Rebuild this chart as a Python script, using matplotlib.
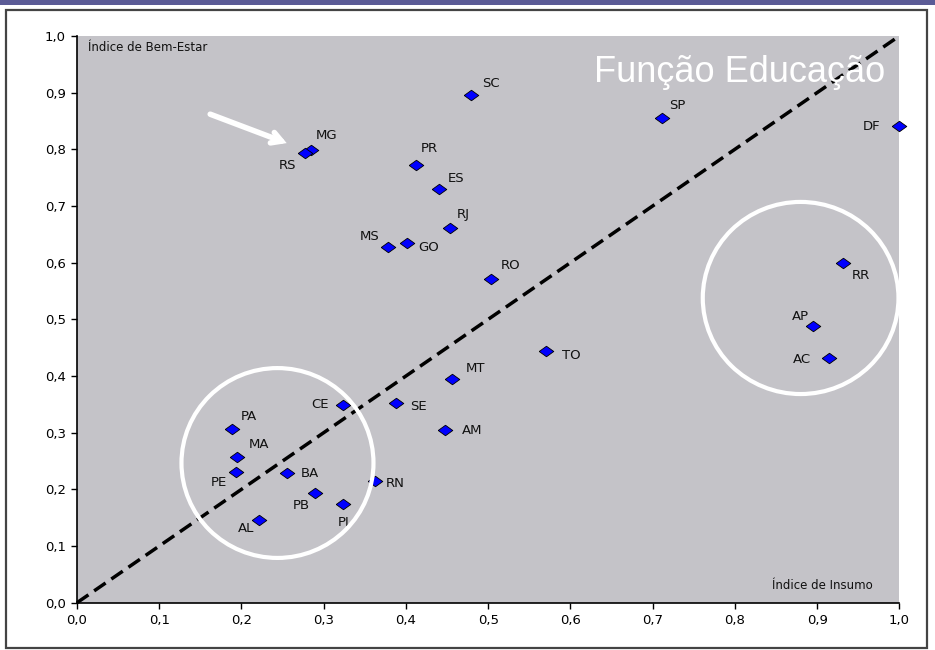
import matplotlib
matplotlib.use("Agg")
import matplotlib.pyplot as plt
from matplotlib.patches import Ellipse, Rectangle

# ---------- DATA ----------
states = ["AC", "AL", "AM", "AP", "BA", "CE", "DF", "ES", "GO", "MA", "MG", "MS", "MT", "PA",
          "PB", "PE", "PI", "PR", "RJ", "RN", "RO", "RR", "RS", "SC", "SE", "SP", "TO"]
insumo = [0.914, 0.221, 0.448, 0.895, 0.255, 0.324, 1.000, 0.440, 0.401, 0.195, 0.285, 0.378, 0.456, 0.189,
          0.289, 0.193, 0.324, 0.412, 0.454, 0.362, 0.504, 0.932, 0.277, 0.479, 0.388, 0.712, 0.570]
bem_estar = [0.432, 0.146, 0.304, 0.488, 0.228, 0.349, 0.842, 0.730, 0.634, 0.257, 0.799, 0.628, 0.394, 0.307,
             0.193, 0.231, 0.174, 0.772, 0.661, 0.214, 0.571, 0.599, 0.794, 0.896, 0.352, 0.855, 0.444]

ticks = [0.0, 0.1, 0.2, 0.3, 0.4, 0.5, 0.6, 0.7, 0.8, 0.9, 1.0]
tick_labels = ["0,0", "0,1", "0,2", "0,3", "0,4", "0,5", "0,6", "0,7", "0,8", "0,9", "1,0"]

# label offsets in pixels (dx, dy) from the marker, picked by eye
label_offsets = {
    "AC": (-27, -2), "AL": (-13, -9), "AM": (27, 0), "AP": (-13, 10), "BA": (23, 0),
    "CE": (-23, 0), "DF": (-28, -1), "ES": (17, 11), "GO": (22, -4), "MA": (22, 13),
    "MG": (15, 14), "MS": (-18, 10), "MT": (24, 11), "PA": (16, 12), "PB": (-13, -12),
    "PE": (-17, -11), "PI": (0, -18), "PR": (14, 17), "RJ": (13, 14), "RN": (21, -2),
    "RO": (19, 14), "RR": (17, -12), "RS": (-17, -13), "SC": (20, 11), "SE": (22, -3),
    "SP": (15, 13), "TO": (26, -4),
}

GRAY = "#c4c3c8"
diamond = [(-1, 0), (0, 0.72), (1, 0), (0, -0.72), (-1, 0)]

fig = plt.figure(figsize=(9.35, 6.5), dpi=100)
fig.patch.set_facecolor("white")

# top strip and frame around the chart
fig.add_artist(Rectangle((0, 1 - 5 / 650), 1, 5 / 650, transform=fig.transFigure,
                         facecolor="#5b5b96", edgecolor="none"))
fig.add_artist(Rectangle((6 / 935, 2 / 650), 921 / 935, 638 / 650, transform=fig.transFigure,
                         facecolor="none", edgecolor="#444444", linewidth=1.6))

ax = fig.add_axes([77 / 935, 1 - 602.7 / 650, 822.3 / 935, 566.7 / 650])
ax.set_facecolor(GRAY)
ax.set_xlim(0, 1)
ax.set_ylim(0, 1)

# diagonal reference line
ax.plot([0, 1], [0, 1], color="black", linewidth=2.5, linestyle=(0, (4, 2)), zorder=2,
        clip_on=False)

ax.plot(insumo, bem_estar, linestyle="none", marker=diamond, markersize=10.5,
        markerfacecolor="#0000ff", markeredgecolor="black", markeredgewidth=0.6,
        zorder=3, clip_on=False)

for st, x, y in zip(states, insumo, bem_estar):
    dx, dy = label_offsets[st]
    ax.annotate(st, (x, y), xytext=(dx, dy), textcoords="offset pixels",
                ha="center", va="center", fontsize=9.5, color="#111111", zorder=4)

# white highlight circles
ax.add_patch(Ellipse((0.2438, 0.2465), 0.2335, 0.335, fill=False, edgecolor="white",
                     linewidth=3, zorder=5))
ax.add_patch(Ellipse((0.880, 0.5377), 0.238, 0.339, fill=False, edgecolor="white",
                     linewidth=3, zorder=5))

# arrow pointing at MG / RS
ax.annotate("", xy=(0.255, 0.811), xytext=(0.162, 0.862),
            arrowprops=dict(arrowstyle="->,head_length=0.7,head_width=0.4", color="white",
                            linewidth=4, shrinkA=0, shrinkB=0, joinstyle="miter"), zorder=5)

ax.text(0.9826, 0.919, "Função Educação", ha="right", va="baseline", color="white",
        fontsize=26, family="Liberation Sans", zorder=6)
ax.text(0.0134, 0.979, "Índice de Bem-Estar", ha="left", va="center", fontsize=8.5,
        color="#111111", zorder=6)
ax.text(0.968, 0.031, "Índice de Insumo", ha="right", va="center", fontsize=8.5,
        color="#111111", zorder=6)

ax.set_xticks(ticks)
ax.set_xticklabels(tick_labels)
ax.set_yticks(ticks)
ax.set_yticklabels(tick_labels)
ax.tick_params(direction="out", length=4, width=1, colors="black", labelsize=9.5, pad=4)
for side in ["top", "right"]:
    ax.spines[side].set_visible(False)
for side in ["left", "bottom"]:
    ax.spines[side].set_linewidth(1.2)

fig.savefig("out.png", dpi=100)
plt.close(fig)
